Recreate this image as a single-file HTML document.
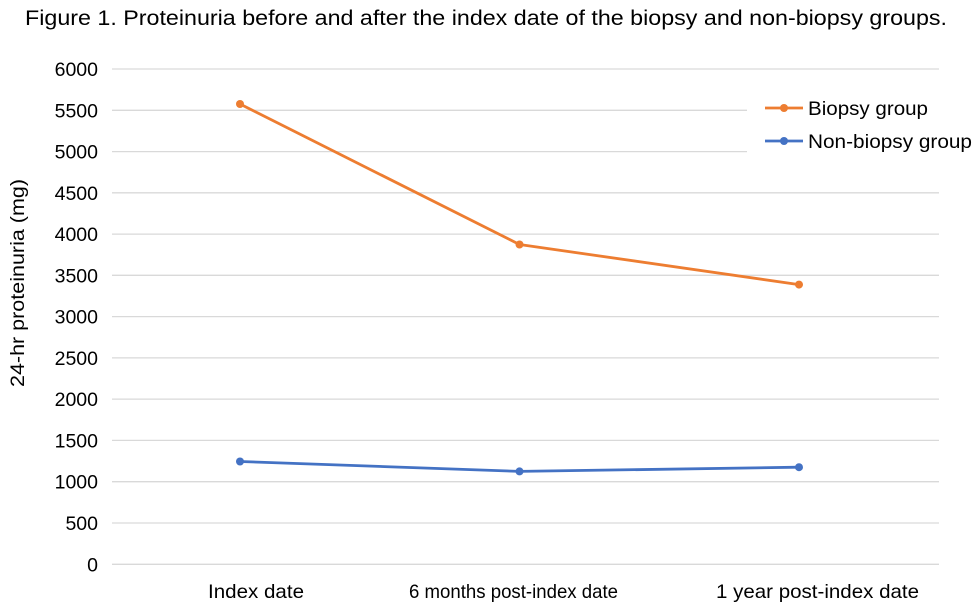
<!DOCTYPE html>
<html>
<head>
<meta charset="utf-8">
<style>
html,body{margin:0;padding:0;background:#fff;}
svg{display:block;}
text{font-family:"Liberation Sans",sans-serif;fill:#000;}
</style>
</head>
<body>
<svg width="975" height="607" viewBox="0 0 975 607" xmlns="http://www.w3.org/2000/svg">
<rect width="975" height="607" fill="#fff"/>
<text x="25" y="25" font-size="21" textLength="922" lengthAdjust="spacingAndGlyphs">Figure 1. Proteinuria before and after the index date of the biopsy and non-biopsy groups.</text>

<g stroke="#d9d9d9" stroke-width="1.3">
<line x1="112" y1="69" x2="939" y2="69"/>
<line x1="112" y1="110.3" x2="747" y2="110.3"/>
<line x1="112" y1="151.6" x2="747" y2="151.6"/>
<line x1="112" y1="192.8" x2="939" y2="192.8"/>
<line x1="112" y1="234.1" x2="939" y2="234.1"/>
<line x1="112" y1="275.3" x2="939" y2="275.3"/>
<line x1="112" y1="316.6" x2="939" y2="316.6"/>
<line x1="112" y1="357.9" x2="939" y2="357.9"/>
<line x1="112" y1="399.1" x2="939" y2="399.1"/>
<line x1="112" y1="440.4" x2="939" y2="440.4"/>
<line x1="112" y1="481.7" x2="939" y2="481.7"/>
<line x1="112" y1="523" x2="939" y2="523"/>
<line x1="112" y1="564.3" x2="939" y2="564.3"/>
</g>

<g font-size="19.5" text-anchor="end">
<text x="98" y="76">6000</text>
<text x="98" y="117.3">5500</text>
<text x="98" y="158.6">5000</text>
<text x="98" y="199.8">4500</text>
<text x="98" y="241.1">4000</text>
<text x="98" y="282.3">3500</text>
<text x="98" y="323.6">3000</text>
<text x="98" y="364.9">2500</text>
<text x="98" y="406.1">2000</text>
<text x="98" y="447.4">1500</text>
<text x="98" y="488.7">1000</text>
<text x="98" y="530">500</text>
<text x="98" y="571.3">0</text>
</g>

<text transform="translate(24,387) rotate(-90)" font-size="19" textLength="208" lengthAdjust="spacingAndGlyphs">24-hr proteinuria (mg)</text>

<g font-size="19.5">
<text x="208" y="598" textLength="96" lengthAdjust="spacingAndGlyphs">Index date</text>
<text x="409" y="598" textLength="209" lengthAdjust="spacingAndGlyphs">6 months post-index date</text>
<text x="716" y="598" textLength="203" lengthAdjust="spacingAndGlyphs">1 year post-index date</text>
</g>

<polyline points="240,104 519.5,244.5 799,284.6" fill="none" stroke="#ED7D31" stroke-width="2.8" stroke-linejoin="round"/>
<g fill="#ED7D31">
<circle cx="240" cy="104" r="4"/>
<circle cx="519.5" cy="244.5" r="4"/>
<circle cx="799" cy="284.6" r="4"/>
</g>
<polyline points="240,461.5 519.5,471.4 799,467.2" fill="none" stroke="#4472C4" stroke-width="2.8" stroke-linejoin="round"/>
<g fill="#4472C4">
<circle cx="240" cy="461.5" r="4"/>
<circle cx="519.5" cy="471.4" r="4"/>
<circle cx="799" cy="467.2" r="4"/>
</g>

<line x1="765" y1="108" x2="803" y2="108" stroke="#ED7D31" stroke-width="2.8"/>
<circle cx="784" cy="108" r="4" fill="#ED7D31"/>
<line x1="765" y1="141" x2="803" y2="141" stroke="#4472C4" stroke-width="2.8"/>
<circle cx="784" cy="141" r="4" fill="#4472C4"/>
<g font-size="19.5">
<text x="808" y="115" textLength="120" lengthAdjust="spacingAndGlyphs">Biopsy group</text>
<text x="808" y="148" textLength="164" lengthAdjust="spacingAndGlyphs">Non-biopsy group</text>
</g>
</svg>
</body>
</html>
